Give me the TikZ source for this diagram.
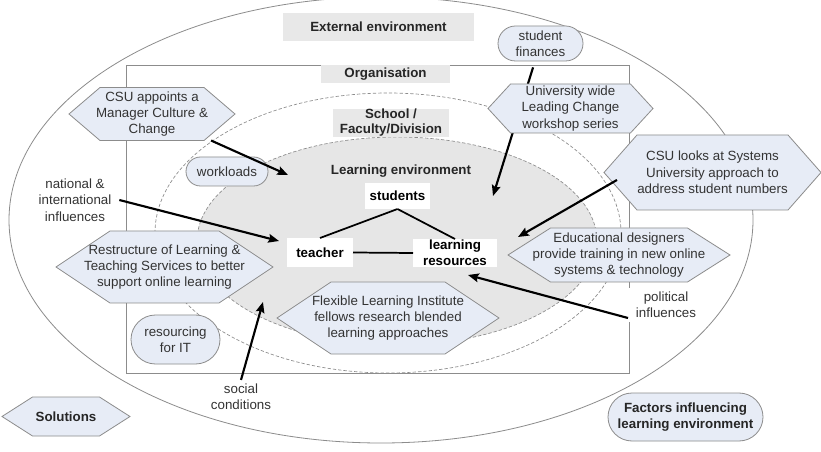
\documentclass[tikz,border=0pt]{standalone}
\usepackage{fontspec}
\setmainfont{Liberation Sans}
\usetikzlibrary{shapes.misc,arrows.meta}
\pgfdeclarelayer{bg}
\pgfdeclarelayer{hexl}
\pgfsetlayers{bg,hexl,main}
\definecolor{hexfill}{RGB}{231,236,246}
\definecolor{edgegrey}{RGB}{140,140,140}
\definecolor{labgrey}{RGB}{232,232,232}
\definecolor{envgrey}{RGB}{230,230,230}
\definecolor{txt}{RGB}{51,51,51}
\newcommand\hexfr[2]{%
  \begin{pgfonlayer}{hexl}
    \draw[hexline] ([xshift=#2]#1.north west) -- ([xshift=-#2]#1.north east) -- (#1.east)
      -- ([xshift=-#2]#1.south east) -- ([xshift=#2]#1.south west) -- (#1.west) -- cycle;
  \end{pgfonlayer}}
\tikzset{
  base/.style={font=\fontsize{10}{12.25}\selectfont, text=txt, align=center, inner sep=0pt, outer sep=0pt},
  boldbase/.style={base, font=\fontsize{10}{12.25}\selectfont\bfseries, text=black!85},
  hexbox/.style={base, rectangle},
  hexline/.style={draw=edgegrey, fill=hexfill, line width=0.6pt},
  pill/.style={base, rounded rectangle, draw=edgegrey, fill=hexfill, line width=0.6pt},
  labbox/.style={boldbase, rectangle, fill=labgrey},
  whitebox/.style={boldbase, rectangle, fill=white, text=black},
  plain/.style={base, inner sep=3pt},
  arr/.style={line width=1.6pt, black, -{Stealth[length=8pt,width=6.5pt,inset=1.2pt]}},
  link/.style={line width=1.3pt, black},
  envline/.style={draw=edgegrey, line width=0.6pt},
  dashline/.style={draw=edgegrey, line width=0.5pt, dash pattern=on 2.5pt off 1.5pt},
}
\begin{document}
\begin{tikzpicture}[x=0.75pt,y=-0.75pt]
\useasboundingbox (0,0) rectangle (821,452);

\begin{pgfonlayer}{bg}
  \fill[white] (0,0) rectangle (821,452);
  \draw[envline] (381,220) ellipse [x radius=279pt, y radius=167.25pt];
  \draw[envline] (126,65) rectangle (629,373);
  \draw[dashline] (388,233) ellipse [x radius=174.75pt, y radius=105pt];
  \draw[dashline, fill=envgrey] (397,241) ellipse [x radius=150pt, y radius=78pt];
\end{pgfonlayer}

% grey labels
\node[labbox, minimum width=143.25pt, minimum height=21pt] (ext) at (378.5,27) {External environment};
\node[labbox, minimum width=96.75pt, minimum height=13.5pt] (org) at (385.5,74) {Organisation};
\node[labbox, minimum width=87pt, minimum height=21pt, font=\fontsize{10}{11.25}\selectfont\bfseries] (sch) at (391,123) {School /\\Faculty/Division};
\node[boldbase] (lenv) at (401,171) {Learning environment};

% white boxes
\node[whitebox, minimum width=48.75pt, minimum height=19.5pt] (stud) at (397.5,196) {students};
\node[whitebox, minimum width=49.5pt, minimum height=21.75pt] (teach) at (320,252.5) {teacher};
\node[whitebox, minimum width=63pt, minimum height=21pt, font=\fontsize{10}{12}\selectfont\bfseries] (lres) at (455,253) {learning\\resources};

% hexagons (solutions)
\node[hexbox, minimum width=124.5pt, minimum height=39.75pt] (csu1) at (152,114) {CSU appoints a\\Manager Culture \&\\Change};
\hexfr{csu1}{23.25pt}
\node[hexbox, minimum width=123.75pt, minimum height=36.75pt] (univ) at (570.5,108.5) {University wide\\Leading Change\\workshop series};
\hexfr{univ}{16.9pt}
\node[hexbox, minimum width=162.75pt, minimum height=56.25pt] (csu2) at (712.5,172.5) {CSU looks at Systems\\University approach to\\address student numbers};
\hexfr{csu2}{24.75pt}
\node[hexbox, minimum width=162.75pt, minimum height=54pt] (restr) at (164.5,267) {Restructure of Learning \&\\Teaching Services to better\\support online learning};
\hexfr{restr}{40.5pt}
\node[hexbox, minimum width=166.5pt, minimum height=40.5pt] (edu) at (619,255) {Educational designers\\provide training in new online\\systems \& technology};
\hexfr{edu}{31.9pt}
\node[hexbox, minimum width=166.5pt, minimum height=54pt] (flex) at (388,318) {Flexible Learning Institute\\fellows research blended\\learning approaches};
\hexfr{flex}{40.5pt}
\node[hexbox, boldbase, minimum width=96pt, minimum height=29.25pt] (sol) at (66,416.5) {Solutions};
\hexfr{sol}{22.9pt}

% pills (factors)
\node[pill, minimum width=61.5pt, minimum height=21.75pt] (work) at (227,171.5) {workloads};
\node[pill, minimum width=63.75pt, minimum height=26.25pt] (sfin) at (540.5,43.5) {student\\finances};
\node[pill, minimum width=66.75pt, minimum height=36.75pt] (resit) at (175.5,339.5) {resourcing\\for IT};
\node[pill, boldbase, minimum width=116.25pt, minimum height=36pt] (fact) at (685.5,417) {Factors influencing\\learning environment};

% plain factor texts
\node[plain, inner xsep=6pt] (natl) at (75,200) {national \&\\international\\influences};
\node[plain, fill=white, inner xsep=6pt] (pol) at (666,305) {political\\influences};
\node[plain] (soc) at (241,397) {social\\conditions};

% arrow targets
\coordinate (c1) at (288,175);
\coordinate (c2) at (279,241);
\coordinate (c3) at (493,196);
\coordinate (c4) at (518,237);
\coordinate (c5) at (468,275);
\coordinate (c6) at (263,302);

% links
\draw[link] (stud.south) -- (teach.north);
\draw[link] (stud.south) -- (lres.north);
\draw[link] (teach.east) -- (lres.west);

% arrows
\draw[arr] (csu1) -- (c1);
\draw[arr] (natl.east) -- (c2);
\begin{pgfonlayer}{bg}
  \draw[arr, shorten <=5pt] (sfin) -- (c3);
\end{pgfonlayer}
\draw[arr] ([shift={(9.75pt,-5.6pt)}]csu2.west) -- (c4);
\draw[arr] ([yshift=-9.75pt]pol.west) -- (c5);
\draw[arr] (soc.north) -- (c6);
\end{tikzpicture}
\end{document}
